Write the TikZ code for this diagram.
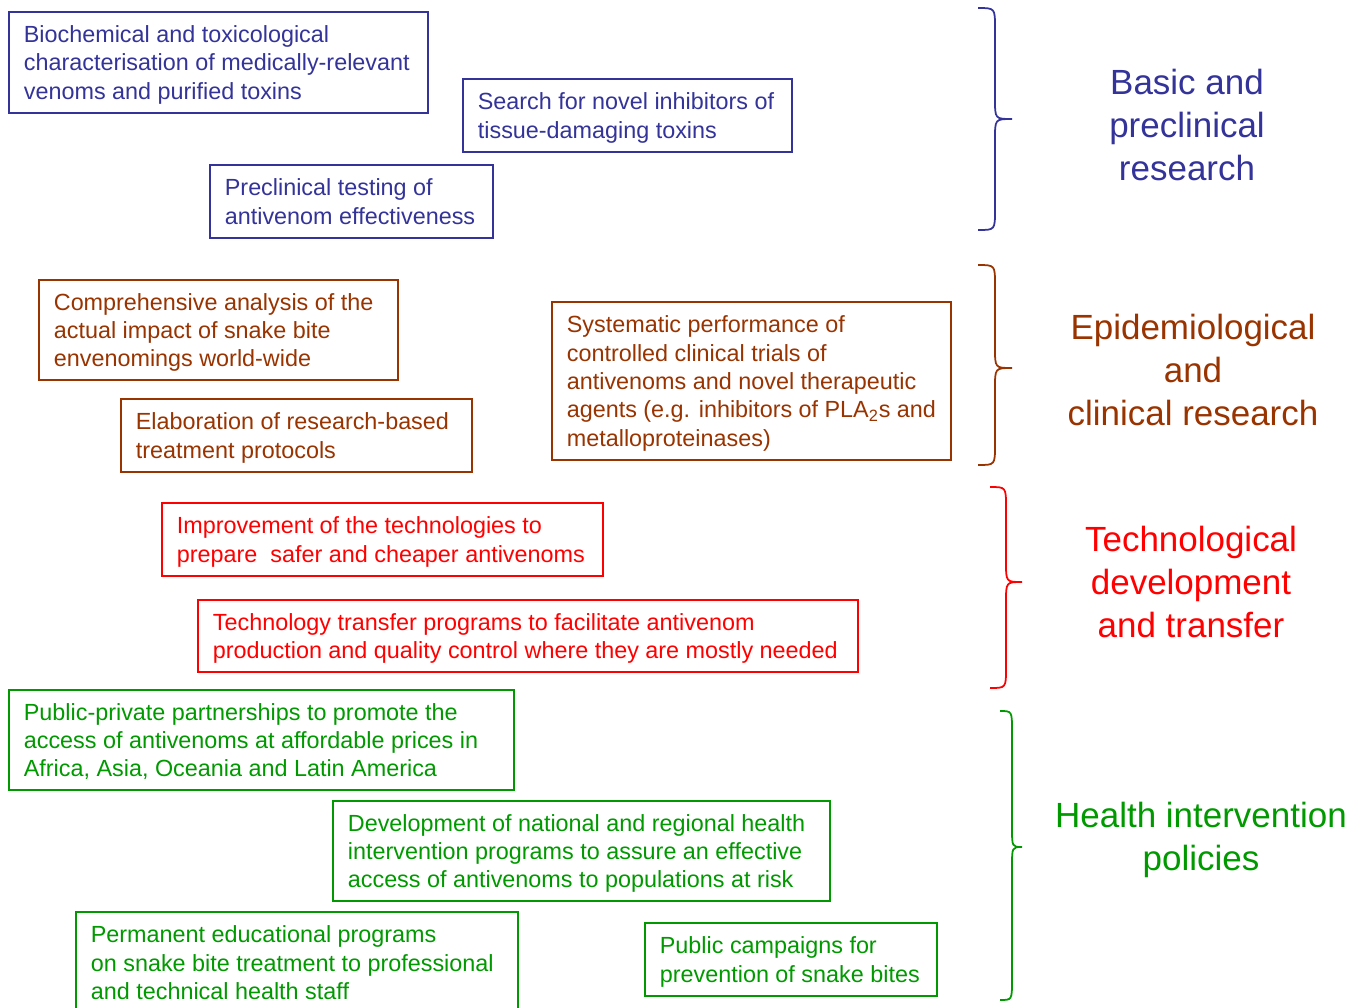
\documentclass[tikz,border=0pt]{standalone}
\usepackage{fontspec}
\setmainfont{Liberation Sans}
\usepackage{tikz}

\definecolor{basicblue}{RGB}{51,51,153}
\definecolor{epibrown}{RGB}{153,51,0}
\definecolor{techred}{RGB}{255,0,0}
\definecolor{healthgreen}{RGB}{0,153,0}

\tikzset{
	box/.style = {draw, line width = 1pt, align = flush left, anchor = north west,
		inner xsep = .3cm, font = \fontsize{13.3}{16.2}\selectfont,
		execute at begin node = {\rule{0pt}{13pt}},
		execute at end node = {\rule[-3.2pt]{0pt}{3.2pt}}},
	area/.style = {align = center, font = \fontsize{19.9}{24.4}\selectfont},
	curly/.style = {line width = 1pt}
}

\begin{document}
\begin{tikzpicture}
	\useasboundingbox (0,0) rectangle (27.28,-20.14);
	% basic and preclinical research
	\node [box, basicblue, text width = 7.78cm, minimum height = 2.02cm] (bio) at (0.16,-0.22) {Biochemical and toxicological\\characterisation of medically-relevant\\venoms and purified toxins};
	\node [box, basicblue, text width = 5.98cm, minimum height = 1.46cm] (inhib) at (9.24,-1.56) {Search for novel inhibitors of\\tissue-damaging toxins};
	\node [box, basicblue, text width = 5.06cm, minimum height = 1.46cm] (precl) at (4.18,-3.28) {Preclinical testing of\\antivenom effectiveness};
	\draw [curly, basicblue] (19.56,-0.16) .. controls (19.9,-0.16) .. (19.9,-0.56) -- (19.9,-1.98) .. controls (19.9,-2.38) .. (20.24,-2.38) .. controls (19.9,-2.38) .. (19.9,-2.78) -- (19.9,-4.2) .. controls (19.9,-4.6) .. (19.56,-4.6);
	\node [area, basicblue] (basic) at (23.74,-2.5) {Basic and\\preclinical\\research};
	% epidemiological and clinical research
	\node [box, epibrown, text width = 6.58cm, minimum height = 2cm] (impact) at (0.76,-5.58) {Comprehensive analysis of the\\actual impact of snake bite\\envenomings world-wide};
	\node [box, epibrown, text width = 6.42cm, minimum height = 1.46cm] (proto) at (2.40,-7.96) {Elaboration of research-based\\treatment protocols};
	\node [box, epibrown, text width = 7.38cm, minimum height = 3.16cm] (trials) at (11.02,-6.02) {Systematic performance of\\controlled clinical trials of\\antivenoms and novel therapeutic\\agents (e.g. inhibitors of PLA\textsubscript{2}s and\\metalloproteinases)};
	\draw [curly, epibrown] (19.56,-5.3) .. controls (19.9,-5.3) .. (19.9,-5.7) -- (19.9,-6.96) .. controls (19.9,-7.36) .. (20.24,-7.36) .. controls (19.9,-7.36) .. (19.9,-7.76) -- (19.9,-8.9) .. controls (19.9,-9.3) .. (19.56,-9.3);
	\node [area, epibrown] (epi) at (23.86,-7.4) {Epidemiological\\and\\clinical research};
	% technological development and transfer
	\node [box, techred, text width = 8.22cm, minimum height = 1.46cm] (improve) at (3.22,-10.04) {Improvement of the technologies to\\prepare~ safer and cheaper antivenoms};
	\node [box, techred, text width = 12.6cm, minimum height = 1.44cm] (transfer) at (3.94,-11.98) {Technology transfer programs to facilitate antivenom\\production and quality control where they are mostly needed};
	\draw [curly, techred] (19.8,-9.74) .. controls (20.12,-9.74) .. (20.12,-10.14) -- (20.12,-11.24) .. controls (20.12,-11.64) .. (20.44,-11.64) .. controls (20.12,-11.64) .. (20.12,-12.04) -- (20.12,-13.36) .. controls (20.12,-13.76) .. (19.8,-13.76);
	\node [area, techred] (tech) at (23.82,-11.64) {Technological\\development\\and transfer};
	% health intervention policies
	\node [box, healthgreen, text width = 9.5cm, minimum height = 2cm] (partner) at (0.16,-13.78) {Public-private partnerships to promote the\\access of antivenoms at affordable prices in\\Africa, Asia, Oceania and Latin America};
	\node [box, healthgreen, text width = 9.34cm, minimum height = 2cm] (national) at (6.64,-16.0) {Development of national and regional health\\intervention programs to assure an effective\\access of antivenoms to populations at risk};
	\node [box, healthgreen, text width = 8.24cm, minimum height = 2.02cm] (educ) at (1.5,-18.22) {Permanent educational programs\\on snake bite treatment to professional\\and technical health staff};
	\node [box, healthgreen, text width = 5.24cm, minimum height = 1.46cm] (campaign) at (12.88,-18.44) {Public campaigns for\\prevention of snake bites};
	\draw [curly, healthgreen] (20.0,-14.22) .. controls (20.24,-14.22) .. (20.24,-14.62) -- (20.24,-16.54) .. controls (20.24,-16.94) .. (20.44,-16.94) .. controls (20.24,-16.94) .. (20.24,-17.34) -- (20.24,-19.6) .. controls (20.24,-20.0) .. (20.0,-20.0);
	\node [area, healthgreen] (health) at (24.02,-16.8) {Health intervention\\policies};
\end{tikzpicture}
\end{document}
